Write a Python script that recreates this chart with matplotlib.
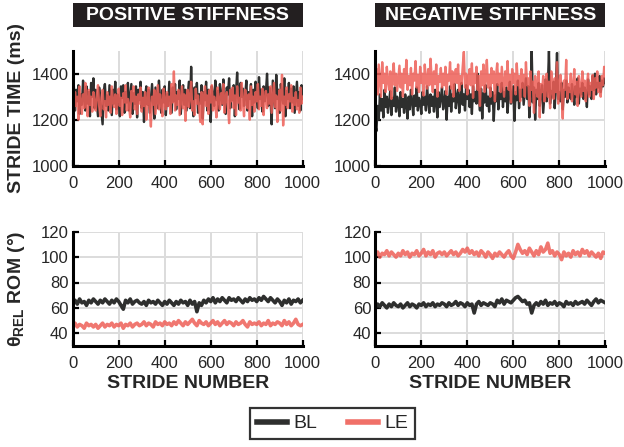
import numpy as np
import matplotlib
matplotlib.use("Agg")
import matplotlib.pyplot as plt
from matplotlib.patches import Rectangle
from matplotlib.lines import Line2D

plt.rcParams['font.family'] = ['Liberation Sans', 'DejaVu Sans']
plt.rcParams['mathtext.fontset'] = 'custom'
plt.rcParams['mathtext.rm'] = 'Liberation Sans:bold'
plt.rcParams['mathtext.it'] = 'Liberation Sans:bold'
plt.rcParams['mathtext.bf'] = 'Liberation Sans:bold'

# ---------------- data ----------------
stride_top = list(range(0, 1001, 5))
stride_bot = list(range(0, 1001, 10))

pos_time_bl = [
    1300,1345,1240,1330,1280,1350,1225,1310,1265,1370,
    1290,1240,1345,1270,1320,1215,1360,1300,1380,1250,
    1330,1270,1215,1340,1290,1235,1180,1320,1355,1260,
    1305,1240,1350,1285,1220,1330,1270,1365,1245,1310,
    1280,1215,1345,1295,1350,1230,1320,1275,1360,1240,
    1300,1355,1225,1315,1270,1345,1210,1330,1285,1365,
    1250,1320,1190,1300,1345,1265,1330,1230,1290,1355,
    1270,1205,1340,1295,1250,1370,1285,1230,1330,1275,
    1345,1220,1310,1260,1365,1295,1230,1340,1280,1355,
    1245,1320,1290,1370,1225,1305,1350,1265,1330,1240,
    1300,1365,1250,1430,1280,1215,1340,1295,1360,1230,
    1310,1270,1350,1205,1320,1285,1365,1240,1330,1290,
    1190,1345,1300,1260,1370,1285,1325,1240,1355,1300,
    1265,1375,1290,1225,1340,1310,1380,1250,1330,1285,
    1350,1215,1320,1405,1290,1245,1360,1300,1335,1260,
    1305,1370,1240,1320,1290,1355,1215,1330,1275,1365,
    1300,1250,1385,1290,1330,1235,1345,1280,1320,1400,
    1260,1340,1295,1180,1370,1310,1250,1395,1290,1330,
    1230,1355,1300,1270,1380,1215,1325,1290,1360,1250,
    1335,1275,1345,1230,1300,1365,1260,1320,1240,1350,
    1290]

pos_time_le = [
    1280,1230,1320,1260,1300,1200,1345,1270,1225,1310,
    1250,1360,1280,1215,1330,1265,1300,1235,1320,1275,
    1240,1305,1350,1260,1215,1295,1330,1245,1280,1210,
    1320,1265,1300,1230,1345,1280,1255,1310,1225,1290,
    1335,1260,1295,1220,1315,1275,1350,1240,1290,1255,
    1210,1325,1280,1345,1245,1300,1225,1310,1270,1340,
    1235,1295,1260,1320,1200,1285,1340,1250,1170,1300,
    1265,1330,1225,1290,1350,1245,1310,1270,1215,1335,
    1280,1245,1320,1260,1300,1225,1355,1275,1410,1240,
    1305,1265,1330,1220,1285,1345,1250,1310,1195,1290,
    1330,1255,1300,1365,1240,1280,1220,1335,1270,1305,
    1245,1190,1320,1180,1290,1345,1260,1305,1225,1330,
    1275,1350,1240,1300,1265,1210,1340,1285,1245,1315,
    1270,1355,1230,1295,1320,1260,1185,1330,1280,1340,
    1250,1305,1220,1345,1275,1295,1240,1360,1270,1215,
    1330,1285,1250,1310,1200,1345,1265,1300,1235,1320,
    1280,1355,1245,1300,1260,1335,1220,1290,1325,1250,
    1310,1270,1345,1230,1295,1360,1255,1305,1190,1280,
    1330,1240,1395,1175,1300,1265,1340,1250,1310,1280,
    1350,1235,1295,1265,1320,1245,1285,1230,1340,1270,
    1300]

neg_time_bl = [
    1180,1150,1260,1200,1310,1240,1290,1210,1330,1255,
    1300,1230,1280,1325,1220,1295,1260,1340,1235,1300,
    1270,1215,1320,1255,1290,1230,1310,1265,1205,1300,
    1245,1330,1280,1220,1305,1260,1340,1240,1295,1275,
    1225,1320,1265,1300,1240,1345,1280,1230,1310,1260,
    1300,1235,1330,1275,1210,1320,1255,1295,1340,1245,
    1280,1325,1200,1300,1260,1345,1235,1310,1280,1355,
    1250,1300,1330,1230,1290,1360,1265,1310,1240,1350,
    1290,1330,1255,1310,1225,1345,1280,1320,1270,1400,
    1300,1240,1335,1205,1315,1275,1350,1260,1300,1235,
    1340,1270,1320,1195,1305,1280,1355,1245,1315,1290,
    1360,1255,1320,1280,1340,1230,1310,1365,1270,1300,
    1345,1195,1320,1285,1370,1250,1330,1300,1360,1265,
    1320,1380,1290,1345,1210,1315,1500,1275,1340,1200,
    1330,1290,1360,1260,1320,1350,1230,1305,1375,1280,
    1340,1500,1270,1325,1300,1365,1250,1345,1490,1290,
    1320,1280,1360,1245,1330,1300,1370,1275,1340,1310,
    1290,1355,1320,1265,1345,1300,1380,1270,1335,1310,
    1360,1290,1340,1320,1255,1375,1310,1345,1290,1390,
    1330,1400,1310,1360,1340,1390,1320,1370,1345,1380,
    1360]

neg_time_le = [
    1350,1420,1310,1440,1370,1300,1450,1360,1400,1320,
    1430,1370,1330,1410,1290,1390,1445,1350,1400,1325,
    1380,1435,1340,1400,1300,1420,1360,1460,1330,1390,
    1350,1425,1310,1400,1370,1455,1340,1395,1320,1430,
    1360,1400,1305,1440,1375,1335,1420,1350,1465,1380,
    1320,1410,1355,1440,1300,1390,1365,1425,1340,1400,
    1350,1430,1310,1395,1370,1450,1335,1410,1300,1385,
    1420,1360,1440,1325,1390,1355,1430,1495,1340,1400,
    1310,1380,1420,1350,1445,1295,1400,1360,1430,1330,
    1390,1260,1410,1350,1440,1320,1385,1460,1340,1395,
    1300,1425,1360,1410,1280,1390,1445,1350,1400,1320,
    1430,1365,1300,1410,1350,1455,1330,1395,1275,1420,
    1360,1400,1310,1445,1350,1390,1280,1420,1340,1395,
    1300,1450,1350,1380,1260,1410,1330,1365,1230,1390,
    1340,1300,1410,1210,1355,1320,1390,1280,1345,1400,
    1300,1365,1250,1410,1330,1290,1380,1320,1450,1270,
    1350,1395,1310,1205,1370,1330,1460,1290,1355,1320,
    1400,1280,1345,1420,1310,1365,1260,1390,1335,1300,
    1410,1325,1370,1280,1350,1400,1300,1360,1330,1395,
    1290,1380,1340,1410,1320,1360,1300,1390,1350,1430,
    1390]

pos_rom_bl = [
    64,66,63,67,64,65,62,66,64,67,
    65,63,66,64,67,65,63,66,64,67,
    65,62,59,66,64,67,63,65,66,64,
    63,65,62,66,64,65,63,66,64,62,
    65,63,66,64,62,65,63,66,64,65,
    62,66,63,65,57,64,62,66,64,67,
    65,68,64,67,65,68,66,64,68,66,
    67,65,68,66,64,67,65,68,66,67,
    65,68,66,69,67,65,68,66,64,67,
    65,62,66,64,67,63,66,65,67,64,
    66]

pos_rom_le = [
    46,48,45,47,46,44,48,46,47,45,
    47,44,46,48,45,47,46,48,45,47,
    46,48,44,47,46,48,45,47,48,46,
    47,49,46,48,47,45,49,47,48,46,
    49,47,48,46,49,47,50,48,46,49,
    47,49,51,48,46,50,48,47,49,46,
    48,50,47,49,46,48,50,47,49,48,
    46,49,47,48,50,47,45,49,47,48,
    47,49,46,48,47,50,46,48,47,49,
    48,46,50,47,49,46,48,51,47,46,
    47]

neg_rom_le = [
    101,104,100,103,102,105,101,104,102,100,
    103,101,105,102,104,100,103,102,105,101,
    103,106,101,104,102,105,100,103,104,102,
    104,101,103,105,102,104,101,103,106,104,
    107,103,105,102,104,101,105,103,100,104,
    102,99,103,101,104,102,100,103,105,101,
    99,104,110,106,103,105,102,107,104,101,
    105,102,108,104,106,111,103,105,101,104,
    102,98,104,101,103,100,105,102,104,101,
    106,103,105,101,104,102,100,103,99,104,
    103]

neg_rom_bl = [
    60,63,61,64,62,60,63,61,64,62,
    61,63,60,62,64,61,63,62,60,63,
    62,64,61,63,62,64,61,63,62,64,
    63,61,64,62,63,65,62,64,63,61,
    64,62,63,56,63,65,62,64,63,62,
    64,63,61,66,64,67,63,66,65,64,
    66,68,69,67,65,66,63,64,56,62,
    64,62,65,63,66,62,64,63,65,62,
    64,63,61,65,63,64,62,65,63,64,
    65,63,66,64,62,65,67,64,66,65,
    64]

titles = ["POSITIVE STIFFNESS", "NEGATIVE STIFFNESS"]
xticks = [0, 200, 400, 600, 800, 1000]
time_ticks = [1000, 1200, 1400]
rom_ticks = [40, 60, 80, 100, 120]

BL_COLOR = "#2e2f2e"
LE_COLOR = "#ee5f57"
TXT = "#262626"

W, H = 624, 447
fig = plt.figure(figsize=(W/100, H/100), dpi=100)

def fx(px):
    return px / W

def fy(py):
    return 1 - py / H

left_x = [72.7, 375.3]
ax_w = 230.0
top_y = (50.7, 165.7)
bot_y = (231.7, 346.0)

def make_ax(x0, yr):
    ax = fig.add_axes([fx(x0), fy(yr[1]), ax_w / W, (yr[1] - yr[0]) / H])
    for s in ['top', 'right']:
        ax.spines[s].set_visible(False)
    for s in ['left', 'bottom']:
        ax.spines[s].set_linewidth(2.2)
        ax.spines[s].set_color('black')
        ax.spines[s].set_zorder(5)
    ax.grid(True, color='#dcdcdc', linewidth=1.4)
    ax.set_axisbelow(True)
    ax.tick_params(direction='in', length=4, width=1.6, color='black',
                   labelsize=12, labelcolor=TXT)
    ax.tick_params(axis='x', pad=7.5)
    ax.tick_params(axis='y', pad=3)
    ax.set_xlim(0, 1000)
    ax.set_xticks(xticks)
    return ax

for i, (bl, le) in enumerate([(pos_time_bl, pos_time_le), (neg_time_bl, neg_time_le)]):
    ax = make_ax(left_x[i], top_y)
    ax.plot(stride_top, bl, color=BL_COLOR, lw=1.7, zorder=2)
    ax.plot(stride_top, le, color=LE_COLOR, lw=1.7, alpha=0.85, zorder=3)
    ax.set_ylim(1000, 1500)
    ax.set_yticks(time_ticks)
    # title box
    y0 = 1 + (top_y[0] - 27.0) / (top_y[1] - top_y[0])
    y1 = 1 + (top_y[0] - 3.3) / (top_y[1] - top_y[0])
    ax.add_patch(Rectangle((0.0, y0), 1.0, y1 - y0, transform=ax.transAxes,
                           facecolor='#231f20', edgecolor='none', clip_on=False))
    ax.text(0.5, (y0 + y1) / 2, titles[i], transform=ax.transAxes, ha='center',
            va='center', color='white', fontsize=14, fontweight='bold')

for i, (bl, le) in enumerate([(pos_rom_bl, pos_rom_le), (neg_rom_bl, neg_rom_le)]):
    ax = make_ax(left_x[i], bot_y)
    ax.plot(stride_bot, bl, color=BL_COLOR, lw=2.6, zorder=2)
    ax.plot(stride_bot, le, color=LE_COLOR, lw=2.6, alpha=0.85, zorder=3)
    ax.set_ylim(30, 120)
    ax.set_yticks(rom_ticks)
    fig.text(fx(left_x[i] + ax_w / 2), fy(383), "STRIDE NUMBER", ha='center',
             va='center', fontsize=14, fontweight='bold', color=TXT)

fig.text(fx(17), fy(108), "STRIDE TIME (ms)", rotation=90, ha='center',
         va='center', fontsize=14, fontweight='bold', color=TXT)
fig.text(fx(17), fy(289), r"$\theta_{\mathrm{REL}}$" + " ROM (°)", rotation=90,
         ha='center', va='center', fontsize=14, fontweight='bold', color=TXT)

h1 = Line2D([], [], color=BL_COLOR, lw=4)
h2 = Line2D([], [], color='#f07068', lw=4)
leg = fig.legend([h1, h2], ["BL", "LE"], loc='center', ncol=2,
                 bbox_to_anchor=(fx(332.5), fy(423.5)), fontsize=14,
                 frameon=True, fancybox=False, handlelength=1.55,
                 columnspacing=1.6, handletextpad=0.3, borderpad=0.35,
                 borderaxespad=0.0)
leg.get_frame().set_edgecolor('black')
leg.get_frame().set_linewidth(1.6)
for t in leg.get_texts():
    t.set_color(TXT)

fig.savefig("out.png", dpi=100)
